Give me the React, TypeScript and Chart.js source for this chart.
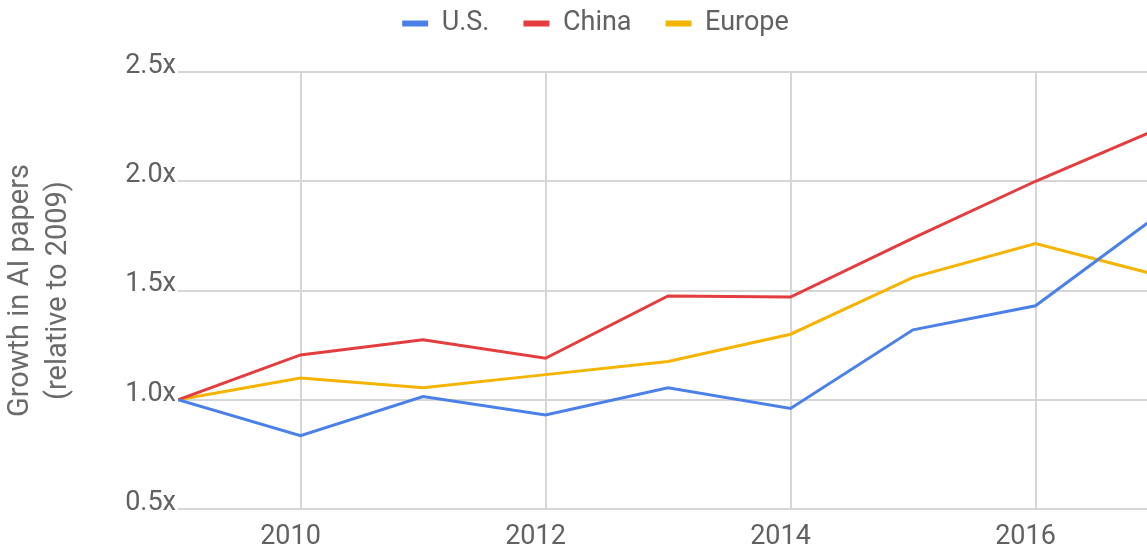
import React, { useEffect, useRef } from 'react';
import { Chart, registerables } from 'chart.js';

Chart.register(...registerables);

const years = [2009, 2010, 2011, 2012, 2013, 2014, 2015, 2016, 2017];
const seriesNames = ['U.S.', 'China', 'Europe'];
const usValues = [1.0, 0.835, 1.015, 0.93, 1.055, 0.96, 1.32, 1.43, 1.845];
const chinaValues = [1.0, 1.205, 1.275, 1.19, 1.475, 1.47, 1.74, 2.0, 2.24];
const europeValues = [1.0, 1.1, 1.055, 1.115, 1.175, 1.3, 1.56, 1.715, 1.57];
const seriesColors = ['#4a80e8', '#e33d3f', '#f4b400'];
const xTickYears = [2010, 2012, 2014, 2016];
const yTickValues = [0.5, 1.0, 1.5, 2.0, 2.5];
const xAxisMin = 2009;
const xAxisMax = 2016.91;
const yAxisTitle = ['Growth in AI papers', '(relative to 2009)'];

const FONT = 'Roboto, "Liberation Sans", Arial, sans-serif';
const TEXT = '#616161';

export default function App() {
  const ref = useRef<HTMLCanvasElement | null>(null);

  useEffect(() => {
    document.body.style.margin = '0';
    const values = [usValues, chinaValues, europeValues];
    const legendPlugin = {
      id: 'legendTweak',
      beforeLayout(chart: any) {
        const lg = chart.legend;
        if (lg && !lg.__patched) {
          const orig = lg.fit;
          lg.fit = function () {
            orig.call(this);
            this.height = 72;
          };
          lg.__patched = true;
        }
      },
      afterLayout(chart: any) {
        const lg = chart.legend;
        if (lg) {
          lg.left += 22;
          lg.right += 22;
          lg.top -= 24;
          lg.bottom -= 24;
        }
      },
    };

    const chart = new Chart(ref.current as HTMLCanvasElement, {
      type: 'line',
      data: {
        datasets: seriesNames.map((name, i) => ({
          label: name,
          data: years.map((yr, j) => ({ x: yr, y: values[i][j] })),
          borderColor: seriesColors[i],
          backgroundColor: seriesColors[i],
          borderWidth: 3,
          pointRadius: 0,
          tension: 0,
          fill: false,
        })),
      },
      options: {
        animation: false,
        responsive: false,
        maintainAspectRatio: false,
        layout: { padding: { top: 0, left: 0, right: 0, bottom: 0 } },
        plugins: {
          legend: {
            position: 'top',
            labels: {
              boxWidth: 26,
              boxHeight: 6,
              padding: 34,
              color: TEXT,
              font: { family: FONT, size: 27 },
              generateLabels: (c: any) =>
                Chart.defaults.plugins.legend.labels
                  .generateLabels(c)
                  .map((l: any) => ({ ...l, lineWidth: 0 })),
            },
          },
          tooltip: { enabled: false },
        },
        scales: {
          x: {
            type: 'linear',
            min: xAxisMin,
            max: xAxisMax,
            afterBuildTicks: (s: any) => {
              s.ticks = xTickYears.map((v) => ({ value: v }));
            },
            afterFit: (s: any) => {
              s.height = 39;
            },
            grid: { color: '#d6d6d6', lineWidth: 2, drawTicks: false },
            border: { display: false },
            ticks: {
              padding: 12,
              labelOffset: -10,
              maxRotation: 0,
              color: TEXT,
              font: { family: FONT, size: 27 },
              callback: (v: any) => String(v),
            },
          },
          y: {
            min: 0.5,
            max: 2.5,
            afterBuildTicks: (s: any) => {
              s.ticks = yTickValues.map((v) => ({ value: v }));
            },
            afterFit: (s: any) => {
              s.width = 178;
            },
            grid: { color: '#d6d6d6', lineWidth: 2, drawTicks: false },
            border: { display: false },
            ticks: {
              padding: 2,
              labelOffset: -6,
              color: TEXT,
              font: { family: FONT, size: 27 },
              callback: (v: any) => Number(v).toFixed(1) + 'x',
            },
            title: {
              display: true,
              text: yAxisTitle,
              color: '#6b6b6b',
              font: { family: FONT, size: 29, lineHeight: 1.3 },
              padding: { top: 2, bottom: 0 },
            },
          },
        },
      },
      plugins: [legendPlugin],
    } as any);
    return () => chart.destroy();
  }, []);

  return (
    <div style={{ position: 'fixed', left: 0, top: 0, width: 1147, height: 548, background: '#fff' }}>
      <canvas ref={ref} width={1147} height={548} style={{ display: 'block' }} />
    </div>
  );
}
